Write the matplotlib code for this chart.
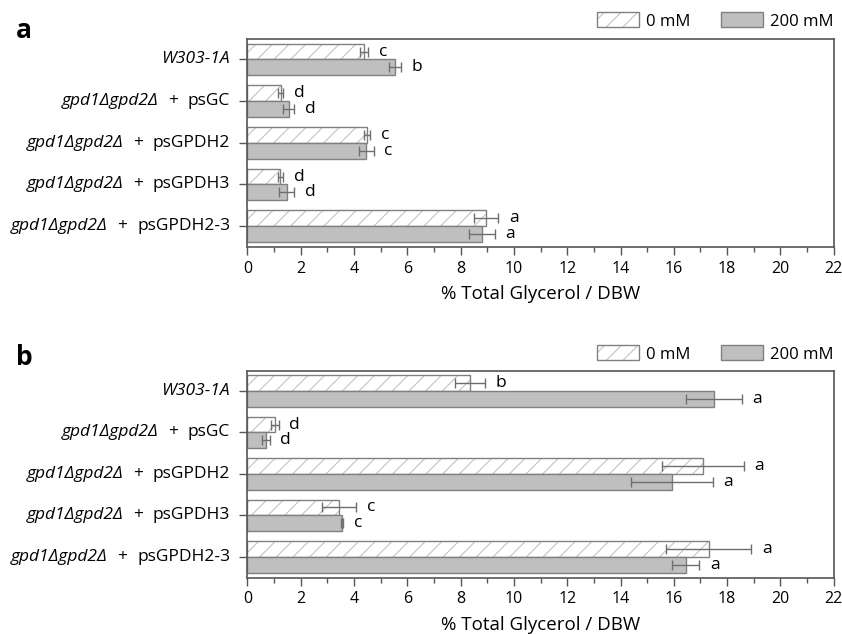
import matplotlib.pyplot as plt
from matplotlib.patches import Patch
from matplotlib.ticker import MultipleLocator
from matplotlib.offsetbox import TextArea, HPacker, AnnotationBbox
import numpy as np

plt.rcParams['font.family'] = ['Open Sans', 'DejaVu Sans']
plt.rcParams['hatch.linewidth'] = 0.8

strains = ["W303-1A", "psGC", "psGPDH2", "psGPDH3", "psGPDH2-3"]
mutant = "gpd1Δgpd2Δ"

# panel a
a_0mm = [4.37, 1.25, 4.50, 1.23, 8.96]
a_0mm_err = [0.16, 0.09, 0.11, 0.10, 0.45]
a_200mm = [5.53, 1.54, 4.46, 1.48, 8.80]
a_200mm_err = [0.23, 0.21, 0.27, 0.28, 0.48]
a_let_0mm = ["c", "d", "c", "d", "a"]
a_let_200mm = ["b", "d", "c", "d", "a"]

# panel b
b_0mm = [8.35, 1.03, 17.08, 3.43, 17.31]
b_0mm_err = [0.56, 0.14, 1.54, 0.65, 1.59]
b_200mm = [17.49, 0.69, 15.93, 3.54, 16.45]
b_200mm_err = [1.05, 0.14, 1.53, 0.04, 0.50]
b_let_0mm = ["b", "d", "a", "c", "a"]
b_let_200mm = ["a", "d", "a", "c", "a"]

FS = 11.5
LFS = 12.5
hatch_col = "#c4c4c4"
edge_col = "#808080"
fill_col = "#bfbfbf"
err_col = "#6e6e6e"
ax_col = "#555555"


def add_ylabels(ax, y):
    for yi, s in zip(y, strains):
        if s.startswith("W303"):
            kids = [TextArea(s, textprops=dict(style="italic", size=LFS))]
        else:
            kids = [TextArea(mutant, textprops=dict(style="italic", size=LFS)),
                    TextArea("+", textprops=dict(size=LFS)),
                    TextArea(s, textprops=dict(size=LFS))]
        box = HPacker(children=kids, align="baseline", pad=0, sep=7)
        ab = AnnotationBbox(box, (0, yi), xycoords=("axes fraction", "data"),
                            xybox=(-12.5, 0), boxcoords="offset points",
                            box_alignment=(1, 0.5), frameon=False, pad=0,
                            annotation_clip=False)
        ax.add_artist(ab)


def draw_panel(ax, v0, e0, v200, e200, l0, l200):
    y = np.arange(len(strains))
    h = 0.38
    ax.barh(y - h / 2, v0, height=h, color="white", edgecolor=hatch_col,
            hatch="//", linewidth=0)
    ax.barh(y - h / 2, v0, height=h, fill=False, edgecolor=edge_col, linewidth=1.0)
    ax.barh(y + h / 2, v200, height=h, color=fill_col, edgecolor=edge_col, linewidth=1.0)
    ax.errorbar(v0, y - h / 2, xerr=e0, fmt="none", ecolor=err_col,
                elinewidth=1.0, capsize=3.5, capthick=1.0)
    ax.errorbar(v200, y + h / 2, xerr=e200, fmt="none", ecolor=err_col,
                elinewidth=1.0, capsize=3.5, capthick=1.0)
    for i in range(len(strains)):
        ax.text(v0[i] + e0[i] + 0.4, y[i] - h / 2, l0[i], fontsize=LFS,
                va="center", ha="left")
        ax.text(v200[i] + e200[i] + 0.4, y[i] + h / 2, l200[i], fontsize=LFS,
                va="center", ha="left")

    ax.set_xlim(0, 22)
    ax.set_ylim(4.5, -0.49)
    ax.xaxis.set_major_locator(MultipleLocator(2))
    ax.xaxis.set_minor_locator(MultipleLocator(1))
    ax.set_yticks(y)
    ax.set_yticklabels([])
    add_ylabels(ax, y)
    ax.tick_params(axis="x", which="major", length=6, width=1.0, color=ax_col,
                   labelsize=FS, pad=4)
    ax.tick_params(axis="x", which="minor", length=3.5, width=1.0, color=ax_col)
    ax.tick_params(axis="y", length=6, width=1.0, color=ax_col)
    for sp in ax.spines.values():
        sp.set_color(ax_col)
        sp.set_linewidth(1.2)
    ax.set_xlabel("% Total Glycerol / DBW", fontsize=13.5, labelpad=6)


fig = plt.figure(figsize=(8.42, 6.34), dpi=100)
W, H = 842, 634
ax_a = fig.add_axes([247.5 / W, 1 - 247 / H, (833.7 - 247.5) / W, 208 / H])
ax_b = fig.add_axes([247.5 / W, 1 - 577.6 / H, (833.7 - 247.5) / W, 207 / H])

draw_panel(ax_a, a_0mm, a_0mm_err, a_200mm, a_200mm_err, a_let_0mm, a_let_200mm)
draw_panel(ax_b, b_0mm, b_0mm_err, b_200mm, b_200mm_err, b_let_0mm, b_let_200mm)

h0 = (Patch(facecolor="white", edgecolor=hatch_col, hatch="//", linewidth=0),
      Patch(fill=False, edgecolor=edge_col, linewidth=1.0))
h200 = Patch(facecolor=fill_col, edgecolor=edge_col, linewidth=1.0)

for yc in (21, 354):
    fig.legend([h0, h200], ["0 mM", "200 mM"], loc="center left",
               bbox_to_anchor=(589 / W, 1 - yc / H), ncol=2, frameon=False,
               fontsize=12, handlelength=2.5, handleheight=1.0,
               handletextpad=0.42, columnspacing=1.86, borderpad=0)

fig.text(24 / W, 1 - 30 / H, "a", fontsize=19, fontweight="bold", ha="center", va="center")
fig.text(24 / W, 1 - 357 / H, "b", fontsize=19, fontweight="bold", ha="center", va="center")

fig.savefig("out.png", dpi=100)
